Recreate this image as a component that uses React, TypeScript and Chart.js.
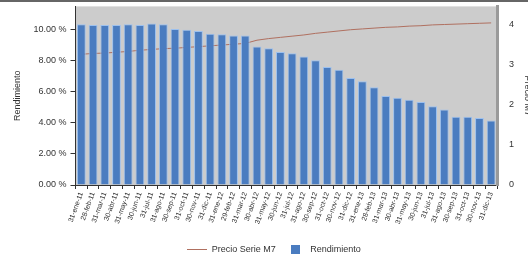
import { useEffect, useRef } from 'react';
import { Chart, registerables } from 'chart.js';

Chart.register(...registerables);

const categories = [
  '31-ene-11', '28-feb-11', '31-mar-11', '30-abr-11', '31-may-11', '30-jun-11',
  '31-jul-11', '31-ago-11', '30-sep-11', '31-oct-11', '30-nov-11', '31-dic-11',
  '31-ene-12', '29-feb-12', '31-mar-12', '30-abr-12', '31-may-12', '30-jun-12',
  '31-jul-12', '31-ago-12', '30-sep-12', '31-oct-12', '30-nov-12', '31-dic-12',
  '31-ene-13', '28-feb-13', '31-mar-13', '30-abr-13', '31-may-13', '30-jun-13',
  '31-jul-13', '31-ago-13', '30-sep-13', '31-oct-13', '30-nov-13', '31-dic-13',
];

const rendimiento = [
  10.3, 10.25, 10.25, 10.25, 10.3, 10.25, 10.35, 10.3, 10.0, 9.95, 9.88, 9.7,
  9.66, 9.58, 9.58, 8.88, 8.77, 8.52, 8.45, 8.24, 7.99, 7.56, 7.39, 6.86,
  6.65, 6.26, 5.71, 5.59, 5.46, 5.32, 5.05, 4.84, 4.37, 4.37, 4.3, 4.13,
];

const precioSerieM7 = [
  3.25, 3.27, 3.28, 3.3, 3.32, 3.35, 3.37, 3.39, 3.4, 3.42, 3.44, 3.46,
  3.48, 3.5, 3.52, 3.6, 3.64, 3.67, 3.7, 3.73, 3.77, 3.8, 3.83, 3.86,
  3.88, 3.9, 3.92, 3.93, 3.95, 3.96, 3.98, 3.99, 4.0, 4.01, 4.02, 4.03,
];

const leftTicks = [0, 2, 4, 6, 8, 10];
const rightTicks = [0, 1, 2, 3, 4];

const BAR_COLOR = '#4a7cc0';
const LINE_COLOR = '#b07060';
const TEXT = '#333333';

export default function App() {
  const ref = useRef<HTMLCanvasElement>(null);

  useEffect(() => {
    const canvas = ref.current;
    if (!canvas) return;

    const lineImg = document.createElement('canvas');
    lineImg.width = 20;
    lineImg.height = 3;
    const lc = lineImg.getContext('2d')!;
    lc.strokeStyle = LINE_COLOR;
    lc.lineWidth = 1;
    lc.beginPath();
    lc.moveTo(0, 1.5);
    lc.lineTo(20, 1.5);
    lc.stroke();

    const sqImg = document.createElement('canvas');
    sqImg.width = 9;
    sqImg.height = 9;
    const sc = sqImg.getContext('2d')!;
    sc.fillStyle = BAR_COLOR;
    sc.fillRect(0, 0, 9, 9);

    const bgPlugin = {
      id: 'plotBg',
      beforeDraw(chart: any) {
        const { ctx, chartArea: a } = chart;
        ctx.save();
        ctx.fillStyle = '#cccccc';
        ctx.fillRect(a.left, a.top, a.right - a.left, a.bottom - a.top);
        ctx.restore();
      },
    };

    Chart.defaults.font.family = '"Liberation Sans", Arial, sans-serif';
    Chart.defaults.font.size = 9;
    Chart.defaults.color = TEXT;

    const chart = new Chart(canvas, {
      type: 'bar',
      data: {
        labels: categories,
        datasets: [
          {
            type: 'line',
            label: 'Precio Serie M7',
            data: precioSerieM7,
            yAxisID: 'y1',
            borderColor: LINE_COLOR,
            backgroundColor: LINE_COLOR,
            borderWidth: 1,
            pointRadius: 0,
            tension: 0,
            order: 2,
          } as any,
          {
            type: 'bar',
            label: 'Rendimiento',
            data: rendimiento,
            yAxisID: 'y',
            backgroundColor: BAR_COLOR,
            borderColor: '#9cc0ee',
            borderWidth: 1,
            barPercentage: 0.75,
            categoryPercentage: 1.0,
            order: 1,
          },
        ],
      },
      options: {
        responsive: false,
        animation: false,
        layout: { padding: { top: 5, left: 12, right: 0, bottom: 0 } },
        plugins: {
          tooltip: { enabled: false },
          legend: {
            position: 'bottom',
            labels: {
              usePointStyle: true,
              pointStyleWidth: 20,
              padding: 10,
              font: { size: 9 },
              color: TEXT,
              sort: (a: any, b: any) => a.datasetIndex - b.datasetIndex,
              generateLabels: (c: any) => {
                const items = (Chart.defaults.plugins.legend.labels as any).generateLabels(c);
                return items.map((it: any) => ({
                  ...it,
                  pointStyle: it.datasetIndex === 0 ? lineImg : sqImg,
                }));
              },
            },
          },
        },
        scales: {
          x: {
            grid: {
              drawOnChartArea: false,
              drawTicks: true,
              tickLength: 4,
              color: TEXT,
              offset: true,
            },
            border: { color: TEXT, width: 1 },
            ticks: {
              autoSkip: false,
              minRotation: 70,
              maxRotation: 70,
              font: { size: 7 },
              color: TEXT,
              padding: 2,
            },
            afterFit: (s: any) => {
              s.height = 50;
            },
          },
          y: {
            position: 'left',
            min: 0,
            max: 11.45,
            grid: { drawOnChartArea: false, drawTicks: true, tickLength: 5, color: TEXT },
            border: { color: TEXT, width: 1 },
            ticks: {
              padding: 4,
              font: { size: 9 },
              color: TEXT,
              callback: (v: any) => Number(v).toFixed(2) + ' %',
            },
            afterBuildTicks: (s: any) => {
              s.ticks = leftTicks.map((v) => ({ value: v }));
            },
            title: {
              display: true,
              text: 'Rendimiento',
              font: { size: 9 },
              color: TEXT,
              padding: { top: 0, bottom: 0 },
            },
            afterFit: (s: any) => {
              s.width = 63.5;
            },
          },
          y1: {
            position: 'right',
            min: 0,
            max: 4.44,
            grid: { display: false, drawOnChartArea: false, drawTicks: false },
            border: { color: '#9a9a9a', width: 3 },
            ticks: {
              padding: 12,
              font: { size: 9 },
              color: TEXT,
              callback: (v: any) => String(v),
            },
            afterBuildTicks: (s: any) => {
              s.ticks = rightTicks.map((v) => ({ value: v }));
            },
            title: {
              display: true,
              text: 'Precio M7',
              font: { size: 9 },
              color: TEXT,
              padding: { top: 3, bottom: 0 },
            },
            afterFit: (s: any) => {
              s.width = 39;
            },
          },
        },
      },
      plugins: [bgPlugin],
    });

    return () => chart.destroy();
  }, []);

  return (
    <div
      style={{
        position: 'fixed',
        left: 0,
        top: 0,
        width: 528,
        height: 261,
        overflow: 'hidden',
        background: '#ffffff',
      }}
    >
      <canvas
        ref={ref}
        width={536}
        height={275}
        style={{ display: 'block', position: 'absolute', left: 0, top: -11, width: 536, height: 275 }}
      />
      <div style={{ position: 'absolute', left: 0, top: 0, width: 528, height: 2, background: '#666666' }} />
    </div>
  );
}
